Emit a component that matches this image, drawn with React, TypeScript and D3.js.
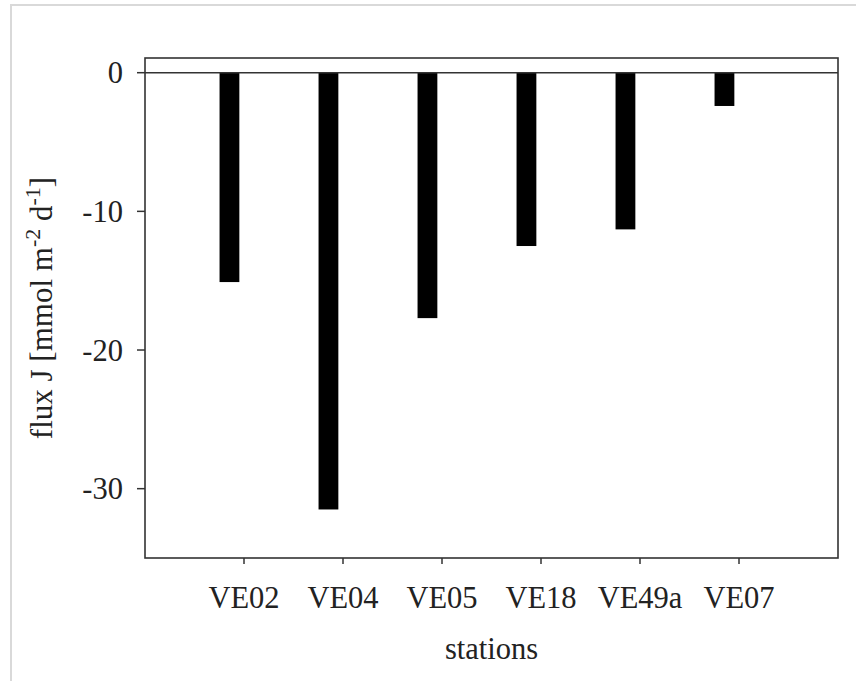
import React from "react";
import * as d3 from "d3";

// Stations along the x axis and the measured flux per station
const stations = ["VE02", "VE04", "VE05", "VE18", "VE49a", "VE07"];
const flux = [-15.1, -31.5, -17.7, -12.5, -11.3, -2.4];
const yTicks = [0, -10, -20, -30];

const W = 856;
const H = 681;
const margin = { left: 145, right: 18, top: 58, bottom: 123 };
const FONT = "'Liberation Serif', 'Times New Roman', serif";
const INK = "#222";
const FS = 30.5;

export default function App() {
  const x = d3
    .scaleLinear()
    .domain([0, stations.length + 1])
    .range([margin.left, W - margin.right]);
  const y = d3
    .scaleLinear()
    .domain([-35, 1.06])
    .range([H - margin.bottom, margin.top]);

  const unit = x(1) - x(0);
  const barW = unit * 0.2;
  const barShift = -unit * 0.147;

  const x0 = x.range()[0];
  const x1 = x.range()[1];
  const yTop = y.range()[1];
  const yBot = y.range()[0];

  return (
    <div style={{ position: "fixed", left: 0, top: 0 }}>
      <svg width={W} height={H} style={{ display: "block", background: "#fff" }}>
        {/* outer page frame */}
        <rect x={11} y={5} width={W + 20} height={H + 20} fill="none" stroke="#d9d9d9" strokeWidth={2} />

        {/* bars */}
        {stations.map((s, i) => {
          const cx = x(i + 1) + barShift;
          const v = flux[i];
          return (
            <rect
              key={s}
              x={cx - barW / 2}
              y={y(Math.max(0, v))}
              width={barW}
              height={Math.abs(y(v) - y(0))}
              fill="#000"
            />
          );
        })}

        {/* plot frame */}
        <rect x={x0} y={yTop} width={x1 - x0} height={yBot - yTop} fill="none" stroke="#333" strokeWidth={1.6} />
        {/* zero line */}
        <line x1={x0} x2={x1} y1={y(0)} y2={y(0)} stroke="#333" strokeWidth={1.6} />

        {/* y axis ticks */}
        {yTicks.map((t) => (
          <g key={t}>
            <line x1={x0 - 8} x2={x0} y1={y(t)} y2={y(t)} stroke="#333" strokeWidth={1.5} />
            <text
              x={x0 - 22}
              y={y(t)}
              dy="0.35em"
              textAnchor="end"
              fontFamily={FONT}
              fontSize={FS}
              fill={INK}
            >
              {t === 0 ? "0" : "-" + Math.abs(t)}
            </text>
          </g>
        ))}

        {/* x axis ticks */}
        {stations.map((s, i) => (
          <g key={s}>
            <line x1={x(i + 1)} x2={x(i + 1)} y1={yBot} y2={yBot + 6} stroke="#333" strokeWidth={1.5} />
            <text x={x(i + 1)} y={608} textAnchor="middle" fontFamily={FONT} fontSize={FS} fill={INK}>
              {s}
            </text>
          </g>
        ))}

        {/* axis titles */}
        <text x={(x0 + x1) / 2} y={659} textAnchor="middle" fontFamily={FONT} fontSize={FS} fill={INK}>
          stations
        </text>
        <text
          transform={`translate(52,${(yTop + yBot) / 2}) rotate(-90)`}
          textAnchor="middle"
          fontFamily={FONT}
          fontSize={31}
          fill={INK}
        >
          flux J [mmol m
          <tspan fontSize={22} dy={-12}>-2</tspan>
          <tspan dy={12}> d</tspan>
          <tspan fontSize={22} dy={-12}>-1</tspan>
          <tspan dy={12}>]</tspan>
        </text>
      </svg>
    </div>
  );
}
